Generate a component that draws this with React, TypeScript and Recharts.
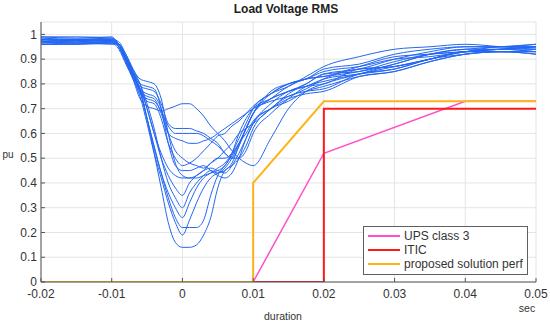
import React from 'react';
import { LineChart, Line, XAxis, YAxis, CartesianGrid, Legend } from 'recharts';

// sample times (sec) shared by every measured run
const times = [
  -0.02, -0.015, -0.01, -0.009, -0.008, -0.007, -0.006, -0.005, -0.004, -0.003, -0.002, -0.001,
  0, 0.001, 0.002, 0.003, 0.004, 0.005, 0.006, 0.007, 0.008, 0.009, 0.01,
  0.0125, 0.015, 0.0175, 0.02, 0.025, 0.03, 0.035, 0.04, 0.045, 0.05,
];

// measured load voltage runs (pu), one array per run
const run1 = [0.97, 0.965, 0.97, 0.95, 0.9, 0.84, 0.78, 0.66, 0.52, 0.38, 0.24, 0.16, 0.14, 0.14, 0.15, 0.19, 0.26, 0.38, 0.45, 0.47, 0.5, 0.55, 0.62, 0.7, 0.75, 0.77, 0.78, 0.84, 0.86, 0.9, 0.92, 0.93, 0.93];
const run2 = [0.96, 0.96, 0.965, 0.94, 0.88, 0.82, 0.75, 0.64, 0.52, 0.42, 0.32, 0.24, 0.19, 0.25, 0.32, 0.38, 0.42, 0.44, 0.45, 0.48, 0.55, 0.62, 0.68, 0.74, 0.79, 0.82, 0.83, 0.85, 0.89, 0.92, 0.93, 0.94, 0.95];
const run3 = [0.98, 0.975, 0.98, 0.95, 0.89, 0.83, 0.77, 0.66, 0.55, 0.44, 0.34, 0.26, 0.22, 0.22, 0.22, 0.25, 0.35, 0.43, 0.47, 0.51, 0.56, 0.6, 0.65, 0.7, 0.74, 0.76, 0.77, 0.83, 0.85, 0.89, 0.92, 0.93, 0.92];
const run4 = [0.97, 0.98, 0.975, 0.96, 0.91, 0.85, 0.8, 0.72, 0.62, 0.5, 0.4, 0.34, 0.3, 0.36, 0.4, 0.43, 0.45, 0.44, 0.46, 0.5, 0.56, 0.62, 0.68, 0.76, 0.8, 0.82, 0.85, 0.87, 0.9, 0.91, 0.93, 0.95, 0.95];
const run5 = [0.96, 0.965, 0.96, 0.96, 0.9, 0.84, 0.78, 0.7, 0.6, 0.5, 0.43, 0.38, 0.35, 0.4, 0.43, 0.45, 0.46, 0.45, 0.44, 0.47, 0.52, 0.58, 0.64, 0.72, 0.77, 0.79, 0.8, 0.86, 0.87, 0.9, 0.93, 0.93, 0.94];
const run6 = [0.99, 0.985, 0.99, 0.96, 0.92, 0.86, 0.82, 0.81, 0.8, 0.74, 0.6, 0.48, 0.43, 0.42, 0.43, 0.45, 0.48, 0.5, 0.5, 0.52, 0.56, 0.62, 0.68, 0.77, 0.8, 0.82, 0.86, 0.88, 0.92, 0.94, 0.95, 0.95, 0.96];
const run7 = [0.975, 0.97, 0.975, 0.96, 0.91, 0.85, 0.79, 0.78, 0.77, 0.72, 0.64, 0.62, 0.62, 0.62, 0.61, 0.6, 0.58, 0.56, 0.52, 0.5, 0.55, 0.62, 0.68, 0.74, 0.77, 0.8, 0.84, 0.85, 0.88, 0.92, 0.94, 0.94, 0.93];
const run8 = [0.965, 0.97, 0.965, 0.96, 0.9, 0.84, 0.77, 0.75, 0.74, 0.68, 0.6, 0.58, 0.57, 0.56, 0.56, 0.57, 0.58, 0.6, 0.62, 0.64, 0.66, 0.68, 0.7, 0.73, 0.75, 0.78, 0.82, 0.86, 0.87, 0.9, 0.93, 0.93, 0.93];
const run9 = [0.98, 0.98, 0.985, 0.95, 0.89, 0.82, 0.74, 0.71, 0.7, 0.69, 0.7, 0.71, 0.72, 0.72, 0.7, 0.67, 0.63, 0.6, 0.57, 0.53, 0.5, 0.48, 0.47, 0.58, 0.7, 0.77, 0.8, 0.84, 0.88, 0.92, 0.94, 0.95, 0.96];
const run10 = [0.97, 0.975, 0.97, 0.96, 0.9, 0.84, 0.78, 0.73, 0.72, 0.66, 0.56, 0.5, 0.47, 0.48, 0.5, 0.53, 0.56, 0.59, 0.6, 0.63, 0.65, 0.68, 0.71, 0.76, 0.79, 0.83, 0.87, 0.91, 0.94, 0.95, 0.96, 0.95, 0.94];
const run11 = [0.985, 0.98, 0.98, 0.97, 0.92, 0.86, 0.8, 0.7, 0.6, 0.52, 0.46, 0.43, 0.42, 0.42, 0.42, 0.43, 0.44, 0.46, 0.48, 0.52, 0.58, 0.64, 0.7, 0.76, 0.8, 0.82, 0.83, 0.87, 0.91, 0.92, 0.93, 0.94, 0.95];
const run12 = [0.96, 0.96, 0.965, 0.96, 0.91, 0.85, 0.8, 0.79, 0.78, 0.7, 0.56, 0.47, 0.45, 0.45, 0.46, 0.47, 0.45, 0.43, 0.42, 0.44, 0.5, 0.58, 0.64, 0.7, 0.73, 0.77, 0.79, 0.83, 0.85, 0.89, 0.92, 0.93, 0.92];
const run13 = [0.97, 0.965, 0.97, 0.95, 0.89, 0.83, 0.76, 0.74, 0.73, 0.69, 0.63, 0.6, 0.6, 0.6, 0.6, 0.59, 0.57, 0.55, 0.52, 0.5, 0.5, 0.53, 0.6, 0.68, 0.74, 0.79, 0.81, 0.84, 0.87, 0.9, 0.93, 0.94, 0.94];
const run14 = [0.98, 0.975, 0.975, 0.96, 0.9, 0.84, 0.77, 0.66, 0.54, 0.44, 0.36, 0.3, 0.26, 0.32, 0.38, 0.42, 0.44, 0.45, 0.47, 0.52, 0.6, 0.66, 0.7, 0.74, 0.77, 0.79, 0.82, 0.84, 0.86, 0.9, 0.93, 0.94, 0.95];
const run15 = [0.99, 0.99, 0.985, 0.96, 0.9, 0.84, 0.78, 0.76, 0.75, 0.7, 0.6, 0.53, 0.5, 0.48, 0.47, 0.46, 0.48, 0.5, 0.53, 0.56, 0.6, 0.62, 0.64, 0.7, 0.76, 0.8, 0.84, 0.86, 0.9, 0.93, 0.95, 0.95, 0.95];

const runs = [run1, run2, run3, run4, run5, run6, run7, run8, run9, run10, run11, run12, run13, run14, run15];

// reference envelopes: [time, pu]
const upsClass3 = [[0.01, 0], [0.02, 0.52], [0.04, 0.73], [0.05, 0.73]];
const itic = [[-0.02, 0], [0.02, 0], [0.02, 0.7], [0.05, 0.7]];
const proposed = [[-0.02, 0], [0.01, 0], [0.01, 0.4], [0.02, 0.73], [0.05, 0.73]];

const legendOrder = ['UPS class 3', 'ITIC', 'proposed solution perf'];

const xTicks = [-0.02, -0.01, 0, 0.01, 0.02, 0.03, 0.04, 0.05];
const yTicks = [0, 0.1, 0.2, 0.3, 0.4, 0.5, 0.6, 0.7, 0.8, 0.9, 1];

const FONT = '"Liberation Sans", Arial, sans-serif';
const BLUE = '#2266f2';

const runTable = times.map((t, i) => {
  const row: any = { t };
  runs.forEach((r, k) => {
    row['run' + k] = r[i];
  });
  return row;
});

const toPoints = (pts: number[][]) => pts.map(([t, v]) => ({ t, v }));

const fmt = (v: number) => (v === 0 ? '0' : String(Math.round(v * 100) / 100));

const LegendBox = (props: any) => {
  const items = (props.payload || [])
    .filter((p: any) => legendOrder.includes(p.value))
    .sort((a: any, b: any) => legendOrder.indexOf(a.value) - legendOrder.indexOf(b.value));
  return (
    <div
      style={{
        border: '1px solid #606060',
        background: '#fff',
        padding: '2px 0 3px 4px',
        fontFamily: FONT,
        fontSize: 12,
        color: '#333',
      }}
    >
      {items.map((p: any) => (
        <div key={p.value} style={{ display: 'flex', alignItems: 'center', height: 14 }}>
          <span style={{ display: 'inline-block', width: 32, height: 2, background: p.color, marginRight: 4 }} />
          <span>{p.value}</span>
        </div>
      ))}
    </div>
  );
};

const App: React.FC = () => {
  return (
    <div style={{ position: 'absolute', left: 0, top: 0, width: 550, height: 325, background: '#fff' }}>
      <LineChart width={550} height={325} data={runTable} margin={{ top: 22, right: 14, bottom: 0, left: 0 }}>
        <CartesianGrid stroke="#e4e4e4" />
        <XAxis
          dataKey="t"
          type="number"
          domain={[-0.02, 0.05]}
          ticks={xTicks}
          tickFormatter={fmt}
          allowDataOverflow
          height={43}
          stroke="#555"
          tickSize={-4}
          tickMargin={11}
          tick={{ fill: '#333', fontSize: 12, fontFamily: FONT }}
        />
        <YAxis
          type="number"
          domain={[0, 1.05]}
          ticks={yTicks}
          tickFormatter={fmt}
          allowDataOverflow
          width={41}
          stroke="#555"
          tickSize={-4}
          tickMargin={8}
          tick={{ fill: '#333', fontSize: 12, fontFamily: FONT }}
        />
        {runs.map((_, k) => (
          <Line
            key={k}
            dataKey={'run' + k}
            type="monotone"
            stroke={BLUE}
            strokeWidth={1}
            dot={false}
            legendType="none"
            isAnimationActive={false}
          />
        ))}
        <Line data={toPoints(upsClass3)} dataKey="v" name="UPS class 3" type="linear" stroke="#ff4fc8" strokeWidth={1.5} dot={false} isAnimationActive={false} />
        <Line data={toPoints(itic)} dataKey="v" name="ITIC" type="linear" stroke="#ff1a1a" strokeWidth={2} dot={false} isAnimationActive={false} />
        <Line data={toPoints(proposed)} dataKey="v" name="proposed solution perf" type="linear" stroke="#ffb31a" strokeWidth={2} dot={false} isAnimationActive={false} />
        <Legend
          layout="vertical"
          align="center"
          verticalAlign="middle"
          content={<LegendBox />}
          wrapperStyle={{ left: 363, top: 226, width: 165 }}
        />
      </LineChart>
      <svg width={550} height={325} style={{ position: 'absolute', left: 0, top: 0, pointerEvents: 'none' }}>
        <text x={286} y={13} textAnchor="middle" fontFamily={FONT} fontSize={12} fontWeight="bold" fill="#222">
          Load Voltage RMS
        </text>
        <text x={8} y={158} textAnchor="middle" fontFamily={FONT} fontSize={10} fill="#333">
          pu
        </text>
        <text x={283} y={320} textAnchor="middle" fontFamily={FONT} fontSize={10.5} fill="#333">
          duration
        </text>
        <text x={527} y={312} textAnchor="middle" fontFamily={FONT} fontSize={10.5} fill="#333">
          sec
        </text>
      </svg>
    </div>
  );
};

export default App;
